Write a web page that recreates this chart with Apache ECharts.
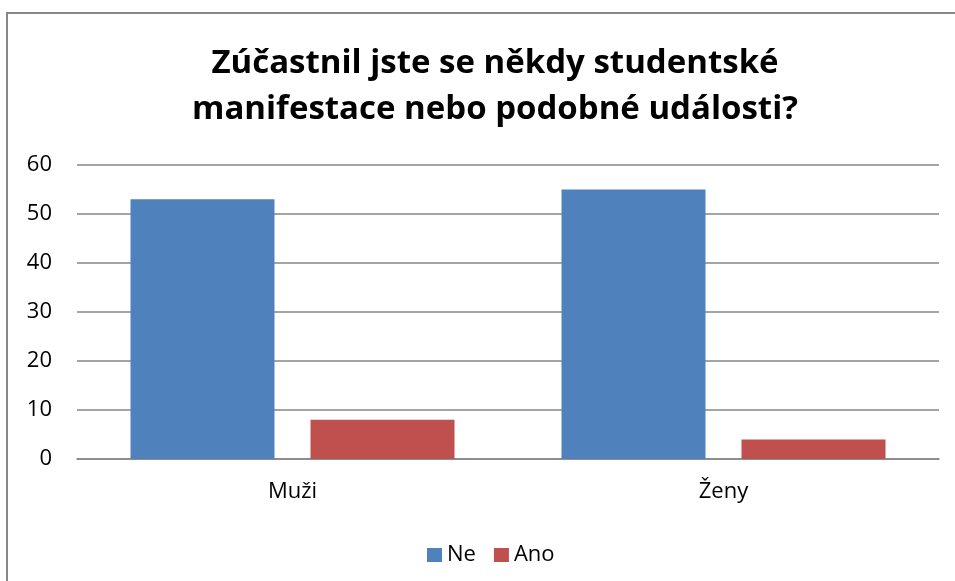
<!DOCTYPE html>
<html>
<head>
<meta charset="utf-8">
<script src="https://cdn.jsdelivr.net/npm/echarts@6/dist/echarts.min.js"></script>
<style>
  html, body { margin: 0; padding: 0; background: #fff; }
  #chart { width: 955px; height: 581px; }
</style>
</head>
<body>
<div id="chart"></div>
<script>
const categories = ['Muži', 'Ženy'];
const seriesNames = ['Ne', 'Ano'];
const neValues = [53, 55];
const anoValues = [8, 4];
const yTicks = [0, 10, 20, 30, 40, 50, 60];

const font = "'Open Sans', 'Noto Sans', sans-serif";

const chart = echarts.init(document.getElementById('chart'));

const option = {
    animation: false,
    graphic: [{
        type: 'rect',
        shape: {x: 7, y: 13, width: 1000, height: 1000},
        style: {fill: 'none', stroke: '#878787', lineWidth: 2},
        silent: true
    }],
    title: {
        text: 'Zúčastnil jste se někdy studentské\nmanifestace nebo podobné události?',
        left: 490,
        textAlign: 'center',
        top: 36,
        textStyle: {
            fontFamily: font,
            fontWeight: 'bold',
            fontSize: 33,
            lineHeight: 46,
            color: '#000'
        }
    },
    legend: {
        data: seriesNames,
        top: 539,
        left: 422,
        itemWidth: 15,
        itemHeight: 14,
        itemGap: 18,
        icon: 'rect',
        textStyle: {fontFamily: font, fontSize: 22, color: '#000'}
    },
    grid: {
        left: 77,
        right: 16,
        top: 165,
        bottom: 122,
        containLabel: false
    },
    xAxis: {
        type: 'category',
        data: categories,
        axisTick: {show: false},
        axisLine: {lineStyle: {color: '#868686', width: 1.5}},
        axisLabel: {fontFamily: font, fontSize: 22, color: '#000', margin: 22}
    },
    yAxis: {
        type: 'value',
        min: yTicks[0],
        max: yTicks[yTicks.length - 1],
        interval: 10,
        axisLine: {show: false},
        axisTick: {show: false},
        axisLabel: {fontFamily: font, fontSize: 22, color: '#000', margin: 25},
        splitLine: {lineStyle: {color: '#868686', width: 1.5}}
    },
    series: [
        {
            name: seriesNames[0],
            type: 'bar',
            data: neValues,
            barWidth: 144,
            barGap: '25%',
            itemStyle: {color: '#4F81BD'}
        },
        {
            name: seriesNames[1],
            type: 'bar',
            data: anoValues,
            barWidth: 144,
            itemStyle: {color: '#C0504D'}
        }
    ]
};

chart.setOption(option);
</script>
</body>
</html>
